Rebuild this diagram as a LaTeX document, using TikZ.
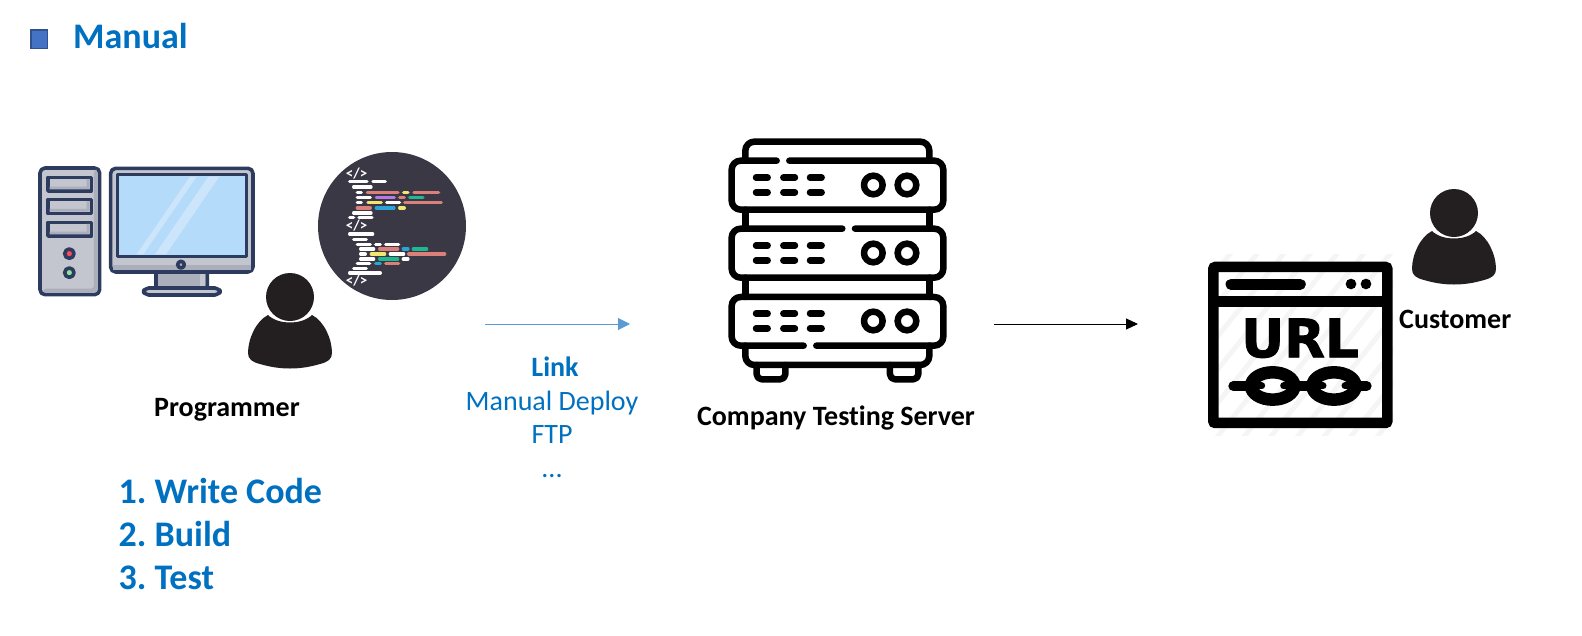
\documentclass[tikz,border=0pt]{standalone}
\usepackage{fontspec}
\setmainfont[Ligatures=NoCommon]{Carlito}
\newfontfamily\urlfont[BoldFeatures={FakeBold=1.5}]{DejaVu Sans}
\usetikzlibrary{arrows.meta}
\definecolor{linkblue}{HTML}{0070C0}
\definecolor{boxblue}{HTML}{4472C4}
\definecolor{boxedge}{HTML}{2F528F}
\definecolor{arrowblue}{HTML}{5B9BD5}
\definecolor{navy}{HTML}{2D3B5F}
\definecolor{caseg}{HTML}{C3C6CF}
\definecolor{bayg}{HTML}{ABAEBB}
\definecolor{screenb}{HTML}{B5DBFB}
\definecolor{glassb}{HTML}{CCE5FB}
\definecolor{codebg}{HTML}{3A3845}
\definecolor{pink}{HTML}{DB7F7B}
\definecolor{yell}{HTML}{F3E66E}
\definecolor{purp}{HTML}{B57BE0}
\definecolor{teal2}{HTML}{1EB893}
\definecolor{blue2}{HTML}{2AA5D8}
\definecolor{ledred}{HTML}{FF4B55}
\definecolor{ledgreen}{HTML}{8DE59B}
\definecolor{personk}{HTML}{231F20}
\tikzset{pclabel/.style={font=\fontsize{28}{32}\selectfont\bfseries, text=black, inner sep=0pt},
    steplabel/.style={font=\fontsize{36}{40}\selectfont\bfseries, text=linkblue, inner sep=0pt},
    linklabel/.style={font=\fontsize{28}{32}\selectfont, text=linkblue, inner sep=0pt},
    taglabel/.style={inner sep=0pt, text=white, font=\fontsize{15}{15}\selectfont\bfseries},
    pcline/.style={draw=navy, line width=3.6pt, line join=round},
    codew/.style={draw=white, line width=3.3pt, line cap=round},
    srv/.style={draw=black, line width=6.5pt, line cap=round, line join=round},
    person/.pic={
        \fill[personk] (0,0) circle (24);
        \fill[personk] (-22,18) .. controls (-12,28) and (12,28) .. (22,18)
            .. controls (34,24) and (42,42) .. (42,56)
            .. controls (42,62) and (38,65) .. (30,67)
            .. controls (10,73) and (-10,73) .. (-30,67)
            .. controls (-38,65) and (-42,62) .. (-42,56)
            .. controls (-42,42) and (-34,24) .. (-22,18) -- cycle;
    }}
\frenchspacing
\begin{document}
\begin{tikzpicture}[x=1pt, y=-1pt]
    \useasboundingbox (0,0) rectangle (1582,635);

    % heading
    \node[draw=boxedge, line width=1.5pt, fill=boxblue, minimum width=16.5pt, minimum height=18.5pt, inner sep=0pt] (mark) at (39,39) {};
    \node[anchor=base west, inner sep=0pt, text=linkblue, font=\fontsize{36}{40}\selectfont\bfseries] (manual) at (73,48) {Manual};

    % tower and monitor, in 3x crop units
    \begin{scope}[shift={(20,130)}, x=0.3333pt, y=-0.3333pt]
        \draw[pcline, fill=caseg, rounded corners=5pt] (60,114) rectangle (239,494);
        \fill[bayg, rounded corners=3pt] (222,120) -- (233,120) -- (233,488) -- (70,488) -- (70,476) -- (222,476) -- cycle;
        \foreach \y in {138,205,273} {
            \draw[pcline, fill=caseg] (84,\y+4) rectangle (214,\y+45);
            \fill[bayg] (200,\y+9) -- (209,\y+9) -- (209,\y+40) -- (89,\y+40) -- (89,\y+32) -- (200,\y+32) -- cycle;
        }
        \draw[pcline, fill=ledred] (148,371) circle (14);
        \draw[pcline, fill=ledgreen] (148,428) circle (14);
        \draw[pcline, fill=bayg, rounded corners=2pt] (408,425) rectangle (562,474);
        \fill[caseg] (540,430) rectangle (556,469);
        \draw[pcline, fill=caseg, rounded corners=5pt] (371,474) rectangle (600,495);
        \draw[pcline, fill=caseg, rounded corners=5pt] (272,115) rectangle (699,426);
        \fill[bayg] (278,405) rectangle (693,420);
        \draw[pcline, fill=screenb] (292,134) rectangle (679,379);
        \fill[glassb] (350,373) -- (510,140) -- (530,140) -- (370,373) -- cycle;
        \fill[glassb] (405,373) -- (565,140) -- (598,140) -- (438,373) -- cycle;
        \draw[pcline, fill=bayg] (483,404) circle (10);
    \end{scope}

    % code bubble
    \node[circle, fill=codebg, minimum size=148pt, inner sep=0pt] (bubble) at (392,226) {};
    \begin{scope}[shift={(20,130)}, x=0.3333pt, y=-0.3333pt]
        \node[taglabel] (tag1) at (1010,130) {</>};
        \node[taglabel] (tag2) at (1010,288) {</>};
        \node[taglabel] (tag3) at (1010,453) {</>};
        \foreach \y/\a/\b in {155/989/1041, 155/1059/1096, 171/1001/1053, 187/1012/1024, 203/1012/1051,
            218/1012/1024, 218/1100/1139, 249/1001/1053, 263/989/1001, 263/1017/1056, 312/989/1058,
            328/1001/1039, 343/1012/1051, 343/1067/1081, 343/1097/1136, 357/1022/1061, 372/1022/1036,
            372/1111/1151, 387/1022/1061, 387/1150/1164, 401/1012/1049, 415/1001/1039, 429/989/1081}
            \draw[codew] (\a,\y) -- (\b,\y);
        \foreach \y/\a/\b in {187/1042/1134, 187/1182/1256, 203/1139/1153, 218/1154/1264, 234/1012/1051,
            357/1079/1133, 372/1166/1274, 401/1097/1136}
            \draw[codew, draw=pink] (\a,\y) -- (\b,\y);
        \foreach \y/\a/\b in {187/1151/1164, 218/1044/1084, 234/1139/1153, 372/1054/1094}
            \draw[codew, draw=yell] (\a,\y) -- (\b,\y);
        \foreach \y/\a/\b in {203/1169/1209, 357/1180/1220, 387/1079/1133}
            \draw[codew, draw=teal2] (\a,\y) -- (\b,\y);
        \foreach \y/\a/\b in {234/1069/1122, 357/1150/1164, 401/1067/1081}
            \draw[codew, draw=blue2] (\a,\y) -- (\b,\y);
        \draw[codew, draw=purp] (1069,203) -- (1123,203);
    \end{scope}

    % people
    \pic (programmer) at (290,297) {person};
    \pic (customer) at (1454,213) {person};

    % server, in 3x crop units
    \begin{scope}[shift={(700,125)}, x=0.3333pt, y=-0.3333pt]
        \draw[srv, rounded corners=9pt] (136,107) -- (136,50) -- (688,50) -- (688,107);
        \draw[srv] (136,254) -- (136,311) (688,254) -- (688,311);
        \draw[srv] (136,458) -- (136,516) (688,458) -- (688,516);
        \draw[srv, rounded corners=9pt] (136,662) -- (136,720) -- (688,720) -- (688,662);
        \draw[srv, rounded corners=5pt] (170,720) -- (170,763) -- (256,763) -- (256,720);
        \draw[srv, rounded corners=5pt] (570,720) -- (570,763) -- (655,763) -- (655,720);
        \draw[srv, rounded corners=9pt] (230,107) -- (95,107) -- (95,254) -- (730,254) -- (730,107) -- (268,107);
        \draw[srv, rounded corners=9pt] (427,311) -- (95,311) -- (95,458) -- (730,458) -- (730,311) -- (465,311);
        \draw[srv, rounded corners=9pt] (311,662) -- (95,662) -- (95,516) -- (730,516) -- (730,662) -- (349,662);
        \foreach \y in {0,204,408} {
            \foreach \x in {168,250,330} {
                \draw[srv] (\x,158+\y) -- (\x+35,158+\y);
                \draw[srv] (\x,202+\y) -- (\x+35,202+\y);
            }
            \draw[srv] (520,180+\y) circle (28);
            \draw[srv] (621,180+\y) circle (28);
        }
    \end{scope}

    % URL window, in 3x crop units
    \begin{scope}[shift={(1180,175)}, x=0.3333pt, y=-0.3333pt]
        \begin{scope}
            \clip (85,238) rectangle (640,782);
            \foreach \x in {-300,-220,...,700}
                \draw[black!4, line width=5pt] (\x,800) -- (\x+640,0);
        \end{scope}
        \draw[black, line width=10.5pt, rounded corners=2pt] (100,276) rectangle (622,744);
        \draw[black, line width=10.5pt] (100,379) -- (622,379);
        \draw[black, line width=11pt, line cap=round] (153,328) -- (361,328);
        \fill[black] (513,327) circle (16) (558,327) circle (16);
        \node[inner sep=0pt, text=black, font=\urlfont\fontsize{53}{53}\selectfont\bfseries] (urltext) at (360,490) {URL};
        \draw[black, line width=10pt, line cap=round] (160,633) -- (200,633) (525,633) -- (560,633) (350,633) -- (390,633);
        \draw[black, line width=12.5pt] (278,633) ellipse (65 and 41);
        \draw[black, line width=12.5pt] (462,633) ellipse (65 and 41);
        \draw[black, line width=7pt, line cap=round] (226,633) -- (245,633) (330,633) -- (311,633)
            (410,633) -- (429,633) (514,633) -- (495,633);
    \end{scope}

    % labels
    \node[pclabel, anchor=base] (programmerlabel) at (227,416) {Programmer};
    \node[pclabel, anchor=base] (serverlabel) at (836,425) {Company Testing Server};
    \node[pclabel, anchor=base west] (customerlabel) at (1399,328.5) {Customer};
    \node[linklabel, anchor=base, font=\fontsize{28}{32}\selectfont\bfseries] (linktitle) at (555,376) {Link};
    \node[linklabel, anchor=base] (linkdeploy) at (552,410) {Manual Deploy};
    \node[linklabel, anchor=base] (linkftp) at (552,443) {FTP};
    \node[linklabel, anchor=base] (linkmore) at (552,477) {...};
    \node[steplabel, anchor=base west] (step1) at (118.5,503) {1. Write Code};
    \node[steplabel, anchor=base west] (step2) at (118.5,546) {2. Build};
    \node[steplabel, anchor=base west] (step3) at (118.5,589) {3. Test};

    % arrows
    \coordinate (a1) at (485,324);
    \coordinate (a2) at (630,324);
    \coordinate (b1) at (994,324);
    \coordinate (b2) at (1138,324);
    \draw[-{Triangle[length=12pt,width=12pt]}, line width=1pt, arrowblue] (a1) -- (a2);
    \draw[-{Triangle[length=12pt,width=11pt]}, line width=1pt, black] (b1) -- (b2);
\end{tikzpicture}
\end{document}
